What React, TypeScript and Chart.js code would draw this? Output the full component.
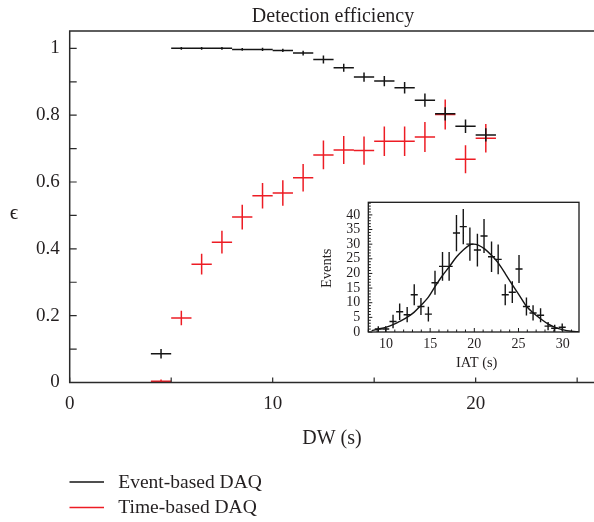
import React, { useEffect, useRef } from "react";
import { Chart, registerables } from "chart.js";
Chart.register(...registerables);

// ---------- Main plot data: detection efficiency vs DW (s) ----------
const dwCenters = [4.5, 5.5, 6.5, 7.5, 8.5, 9.5, 10.5, 11.5, 12.5, 13.5, 14.5, 15.5, 16.5, 17.5, 18.5, 19.5, 20.5];
const dwHalfBin = 0.5;
const eventEff = [0.086, 1.0, 1.0, 1.0, 0.997, 0.997, 0.994, 0.986, 0.967, 0.942, 0.914, 0.902, 0.882, 0.845, 0.804, 0.767, 0.741];
const eventErr = [0.014, 0.004, 0.004, 0.004, 0.004, 0.005, 0.005, 0.007, 0.012, 0.012, 0.014, 0.015, 0.017, 0.02, 0.02, 0.02, 0.02];
const timeEff = [0.004, 0.193, 0.354, 0.42, 0.495, 0.559, 0.567, 0.613, 0.681, 0.696, 0.694, 0.722, 0.722, 0.735, 0.802, 0.668, 0.731];
const timeErr = [0.005, 0.022, 0.031, 0.034, 0.037, 0.038, 0.038, 0.041, 0.043, 0.042, 0.042, 0.044, 0.044, 0.045, 0.045, 0.042, 0.043];
const seriesNames = ["Event-based DAQ", "Time-based DAQ"];

// ---------- Inset data: IAT histogram ----------
const iatCenters = [9.13, 9.97, 10.8, 11.55, 12.4, 13.2, 13.96, 14.8, 15.55, 16.4, 17.15, 17.98, 18.75, 19.5, 20.35, 21.1, 21.95, 22.7, 23.5, 24.3, 25.06, 25.9, 26.65, 27.5, 28.35, 29.1, 29.95];
const iatHalfBin = 0.4;
const iatEvents = [1, 1, 3.6, 6.9, 5.9, 12.7, 8.7, 6.1, 16.8, 22.4, 22.4, 33.8, 36, 30, 28, 32.8, 25.7, 24.8, 12.7, 13.6, 21.5, 8.7, 6.5, 5.7, 2, 1.3, 1.6];
const iatErr = [1, 1, 2.3, 2.8, 2.6, 3.6, 2.9, 2.5, 4.1, 4.9, 4.9, 6.2, 6, 5.7, 5.6, 5.8, 5.2, 5.1, 3.6, 3.7, 4.8, 3.1, 2.6, 2.4, 1.4, 1.2, 1.3];
const fitX = [8.38, 9.13, 9.97, 10.8, 11.55, 12.38, 13.17, 13.96, 14.8, 15.55, 16.4, 17.17, 18.0, 18.75, 19.4, 19.9, 20.45, 21.2, 21.97, 22.72, 23.55, 24.35, 25.06, 25.93, 26.68, 27.52, 28.38, 29.14, 29.97, 31.0, 31.8];
const fitY = [0.45, 1.0, 1.6, 2.5, 3.6, 5.0, 6.7, 9.1, 11.9, 15.5, 19.3, 22.3, 25.7, 28.0, 29.6, 30.0, 29.7, 28.3, 26.1, 23.5, 19.7, 15.9, 12.7, 8.7, 6.5, 4.5, 2.7, 1.6, 0.8, 0.25, 0.1];

const SERIF = '"Liberation Serif", "Times New Roman", serif';
const TEXT = "#231f20";
const BLACK = "#151515";
const RED = "#ed1c24";

function crossPoints(xs: number[], ys: number[], es: number[], hw: number) {
  const pts: any[] = [];
  xs.forEach((x, i) => {
    const y = ys[i];
    const e = es[i];
    pts.push({ x: x - hw, y }, { x: x + hw, y }, { x, y: null }, { x, y: y - e }, { x, y: y + e }, { x, y: null });
  });
  return pts;
}

function fixSize(prop: "width" | "height", size: number) {
  return (s: any) => {
    s[prop] = size;
    s.paddingTop = 0;
    s.paddingBottom = 0;
    s.paddingLeft = 0;
    s.paddingRight = 0;
  };
}

const mainDecor = {
  id: "mainDecor",
  afterDraw(chart: any) {
    const { ctx, chartArea } = chart;
    const { left, top, right, bottom } = chartArea;
    const xs = chart.scales.x;
    const ys = chart.scales.y;
    ctx.save();
    ctx.strokeStyle = "#2a2a2a";
    ctx.lineWidth = 1.5;
    ctx.beginPath();
    ctx.moveTo(right + 2, top);
    ctx.lineTo(left, top);
    ctx.lineTo(left, bottom);
    ctx.lineTo(right + 2, bottom);
    ctx.stroke();
    ctx.lineWidth = 1.2;
    ctx.beginPath();
    xs.ticks.forEach((t: any) => {
      if (Math.abs(t.value / 5 - Math.round(t.value / 5)) > 1e-6) return;
      const p = xs.getPixelForValue(t.value);
      ctx.moveTo(p, bottom);
      ctx.lineTo(p, bottom - 5);
    });
    ys.ticks.forEach((t: any) => {
      const p = ys.getPixelForValue(t.value);
      ctx.moveTo(left, p);
      ctx.lineTo(left + 7, p);
    });
    ctx.stroke();

    ctx.fillStyle = TEXT;
    ctx.textAlign = "center";
    ctx.textBaseline = "alphabetic";
    ctx.font = `20px ${SERIF}`;
    ctx.fillText("Detection efficiency", 333, 22);
    ctx.textBaseline = "middle";
    ctx.fillText("DW (s)", 332, 439);
    ctx.font = `21px ${SERIF}`;
    ctx.fillText("\u03F5", 14, 213);

    // legend
    const colors = [BLACK, RED];
    const lineYs = [482, 507.5];
    const baseYs = [487.5, 513];
    ctx.textAlign = "left";
    ctx.textBaseline = "alphabetic";
    ctx.font = `19.5px ${SERIF}`;
    seriesNames.forEach((name, i) => {
      ctx.strokeStyle = colors[i];
      ctx.lineWidth = 1.3;
      ctx.beginPath();
      ctx.moveTo(69.5, lineYs[i]);
      ctx.lineTo(104, lineYs[i]);
      ctx.stroke();
      ctx.fillStyle = TEXT;
      ctx.fillText(name, 118.3, baseYs[i]);
    });
    ctx.restore();
  },
};

const insetDecor = {
  id: "insetDecor",
  beforeDraw(chart: any) {
    const { ctx, chartArea } = chart;
    ctx.save();
    ctx.fillStyle = "#ffffff";
    ctx.fillRect(chartArea.left, chartArea.top, chartArea.right - chartArea.left, chartArea.bottom - chartArea.top);
    ctx.restore();
  },
  afterDraw(chart: any) {
    const { ctx, chartArea } = chart;
    const { left, top, right, bottom } = chartArea;
    const xs = chart.scales.x;
    const ys = chart.scales.y;
    ctx.save();
    ctx.strokeStyle = "#1a1a1a";
    ctx.lineWidth = 1.3;
    ctx.strokeRect(left, top, right - left, bottom - top);
    ctx.lineWidth = 1;
    ctx.beginPath();
    xs.ticks.forEach((t: any) => {
      const major = Math.abs(t.value / 5 - Math.round(t.value / 5)) < 1e-6;
      const p = xs.getPixelForValue(t.value);
      ctx.moveTo(p, bottom);
      ctx.lineTo(p, bottom - (major ? 4 : 2.5));
    });
    ys.ticks.forEach((t: any) => {
      const major = Math.abs(t.value / 5 - Math.round(t.value / 5)) < 1e-6;
      const p = ys.getPixelForValue(t.value);
      ctx.moveTo(left, p);
      ctx.lineTo(left + (major ? 4 : 2.5), p);
    });
    ctx.stroke();
    ctx.fillStyle = TEXT;
    ctx.font = `14.5px ${SERIF}`;
    ctx.textAlign = "center";
    ctx.textBaseline = "middle";
    ctx.fillText("IAT (s)", 176.7, 168.5);
    ctx.translate(26.7, 73.3);
    ctx.rotate(-Math.PI / 2);
    ctx.fillText("Events", 0, 0);
    ctx.restore();
  },
};

export default function App() {
  const mainRef = useRef<HTMLCanvasElement | null>(null);
  const insetRef = useRef<HTMLCanvasElement | null>(null);

  useEffect(() => {
    const main = new Chart(mainRef.current as HTMLCanvasElement, {
      type: "line",
      data: {
        datasets: [
          {
            label: seriesNames[0],
            data: crossPoints(dwCenters, eventEff, eventErr, dwHalfBin),
            borderColor: BLACK,
            borderWidth: 1.5,
            pointRadius: 0,
            spanGaps: false,
            fill: false,
            tension: 0,
          },
          {
            label: seriesNames[1],
            data: crossPoints(dwCenters, timeEff, timeErr, dwHalfBin),
            borderColor: RED,
            borderWidth: 1.5,
            pointRadius: 0,
            spanGaps: false,
            fill: false,
            tension: 0,
          },
        ],
      } as any,
      options: {
        animation: false,
        responsive: false,
        devicePixelRatio: 1,
        events: [],
        layout: { padding: { top: 31, left: 0, right: 0, bottom: 0 } },
        plugins: { legend: { display: false }, title: { display: false }, tooltip: { enabled: false } },
        scales: {
          x: {
            type: "linear",
            min: 0,
            max: 25.83,
            grid: { display: false, drawTicks: false },
            border: { display: false },
            ticks: {
              stepSize: 5,
              autoSkip: false,
              includeBounds: false,
              maxRotation: 0,
              minRotation: 0,
              padding: 10,
              color: TEXT,
              font: { family: SERIF, size: 19 },
              callback: (v: any) => (Math.round(v) % 10 === 0 ? String(Math.round(v)) : ""),
            },
            afterFit: fixSize("height", 139.5),
          },
          y: {
            type: "linear",
            min: 0,
            max: 1.052,
            grid: { display: false, drawTicks: false },
            border: { display: false },
            ticks: {
              stepSize: 0.1,
              autoSkip: false,
              includeBounds: false,
              padding: 10,
              color: TEXT,
              font: { family: SERIF, size: 19 },
              callback: (v: any) => {
                const k = Math.round(v * 10);
                return k % 2 === 0 ? String(k / 10) : "";
              },
            },
            afterFit: fixSize("width", 69.7),
          },
        },
      } as any,
      plugins: [mainDecor],
    });

    const inset = new Chart(insetRef.current as HTMLCanvasElement, {
      type: "line",
      data: {
        datasets: [
          {
            label: "IAT",
            data: crossPoints(iatCenters, iatEvents, iatErr, iatHalfBin),
            borderColor: BLACK,
            borderWidth: 1.4,
            pointRadius: 0,
            spanGaps: false,
            fill: false,
            tension: 0,
          },
          {
            label: "fit",
            data: fitX.map((x, i) => ({ x, y: fitY[i] })),
            borderColor: BLACK,
            borderWidth: 1.4,
            pointRadius: 0,
            fill: false,
            cubicInterpolationMode: "monotone",
          },
        ],
      } as any,
      options: {
        animation: false,
        responsive: false,
        devicePixelRatio: 1,
        events: [],
        layout: { padding: { top: 7.3, left: 0, right: 11, bottom: 0 } },
        plugins: { legend: { display: false }, title: { display: false }, tooltip: { enabled: false } },
        scales: {
          x: {
            type: "linear",
            min: 8,
            max: 31.85,
            grid: { display: false, drawTicks: false },
            border: { display: false },
            ticks: {
              stepSize: 1,
              autoSkip: false,
              includeBounds: false,
              maxRotation: 0,
              minRotation: 0,
              padding: 4,
              color: TEXT,
              font: { family: SERIF, size: 14 },
              callback: (v: any) => {
                const r = Math.round(v);
                return r % 5 === 0 && r >= 10 ? String(r) : "";
              },
            },
            afterFit: fixSize("height", 48),
          },
          y: {
            type: "linear",
            min: 0,
            max: 44.3,
            grid: { display: false, drawTicks: false },
            border: { display: false },
            ticks: {
              stepSize: 1,
              autoSkip: false,
              includeBounds: false,
              padding: 8,
              color: TEXT,
              font: { family: SERIF, size: 14 },
              callback: (v: any) => {
                const r = Math.round(v);
                return r % 5 === 0 ? String(r) : "";
              },
            },
            afterFit: fixSize("width", 68.3),
          },
        },
      } as any,
      plugins: [insetDecor],
    });

    return () => {
      main.destroy();
      inset.destroy();
    };
  }, []);

  return (
    <div style={{ position: "fixed", left: 0, top: 0, width: 594, height: 522, background: "#fff" }}>
      <canvas ref={mainRef} width={594} height={522} style={{ position: "absolute", left: 0, top: 0, width: 594, height: 522 }} />
      <canvas ref={insetRef} width={290} height={185} style={{ position: "absolute", left: 300, top: 195, width: 290, height: 185 }} />
    </div>
  );
}
